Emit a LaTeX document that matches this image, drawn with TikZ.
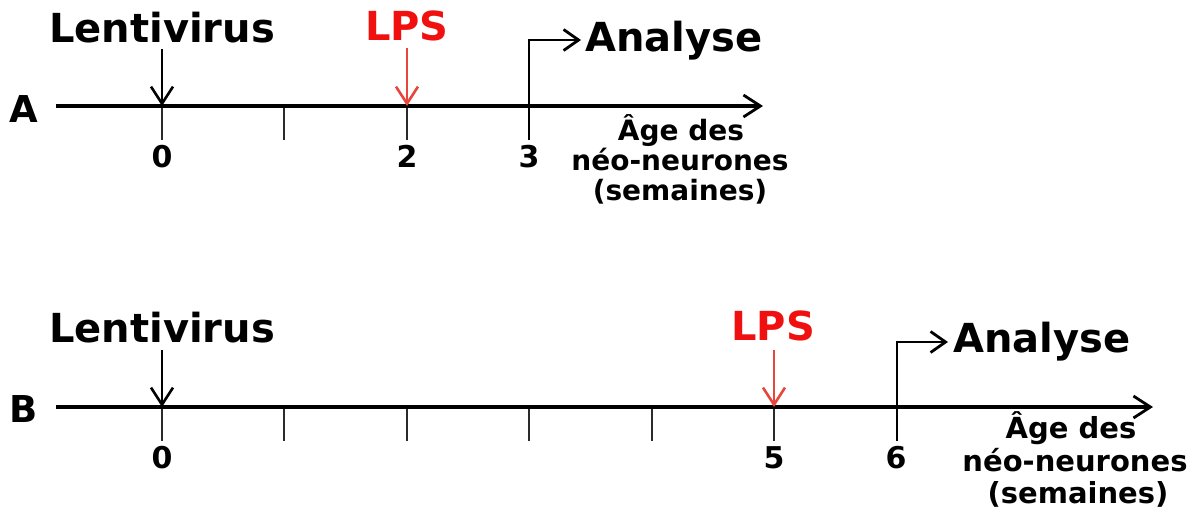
\documentclass[tikz,border=0pt]{standalone}
\usepackage{fontspec}
\setmainfont{DejaVu Sans}
\usetikzlibrary{arrows.meta}
\definecolor{lpsred}{HTML}{F01010}
\definecolor{lpsarrow}{HTML}{E8453C}
\definecolor{tickgray}{HTML}{2A2A2A}
\begin{document}
\begin{tikzpicture}[x=1pt,y=-1pt,
  big/.style={font=\bfseries\fontsize{40}{48}\selectfont,inner sep=0pt,anchor=base},
  panel/.style={font=\bfseries\fontsize{37}{40}\selectfont,inner sep=0pt,anchor=base},
  num/.style={font=\bfseries\fontsize{30}{32}\selectfont,inner sep=0pt,anchor=base},
  agetxt/.style={font=\bfseries\fontsize{28}{30}\selectfont,inner sep=0pt,anchor=base},
  axisline/.style={line width=3.2pt,-{Straight Barb[length=17pt,width=22pt,line width=2.8pt]}},
  tickline/.style={line width=2.5pt,tickgray},
  evarrow/.style={line width=2.6pt,-{Straight Barb[length=17pt,width=22pt,line width=2.6pt]}},
  anarrow/.style={line width=2.8pt,-{Straight Barb[length=15pt,width=21pt,line width=2.8pt]}}]
\useasboundingbox (0,0) rectangle (1189,515);

% ---------------- Panel A ----------------
\node[panel] (labA) at (24,122) {A};
\coordinate (Astart) at (56,106);
\coordinate (Aend) at (763,106);
\foreach \i/\x in {0/162,1/284,2/407,3/529} {
  \coordinate (At\i) at (\x,106);
  \coordinate (Ab\i) at (\x,140);
}
\draw[tickline] (At0) -- (Ab0);
\draw[tickline] (At1) -- (Ab1);
\draw[tickline] (At2) -- (Ab2);
\coordinate (Atop3) at (529,40);
\coordinate (Aan) at (581,40);
\draw[anarrow] (Ab3) -- (Atop3) -- (Aan);
\draw[axisline] (Astart) -- (Aend);

\node[big] (lentA) at (162,42) {Lentivirus};
\node[big,text=lpsred] (lpsA) at (407,40) {LPS};
\node[big,anchor=base west] (anaA) at (585,51) {Analyse};
\coordinate (lentAs) at (162,49);
\coordinate (lpsAs) at (407,48);
\draw[evarrow] (lentAs) -- (At0);
\draw[evarrow,lpsarrow] (lpsAs) -- (At2);

\node[num] (nA0) at (162,167) {0};
\node[num] (nA2) at (407,167) {2};
\node[num] (nA3) at (529,167) {3};
\node[agetxt] (ageA1) at (681,140) {Âge des};
\node[agetxt] (ageA2) at (680,170) {néo-neurones};
\node[agetxt] (ageA3) at (680,200) {(semaines)};

% ---------------- Panel B ----------------
\node[panel] (labB) at (24,422) {B};
\coordinate (Bstart) at (56,407);
\coordinate (Bend) at (1153,407);
\foreach \i/\x in {0/162,1/284,2/407,3/529,4/652,5/774,6/897} {
  \coordinate (Bt\i) at (\x,407);
  \coordinate (Bb\i) at (\x,441);
}
\foreach \i in {0,...,5} { \draw[tickline] (Bt\i) -- (Bb\i); }
\coordinate (Btop6) at (897,342);
\coordinate (Ban) at (948,342);
\draw[anarrow] (Bb6) -- (Btop6) -- (Ban);
\draw[axisline] (Bstart) -- (Bend);

\node[big] (lentB) at (162,342) {Lentivirus};
\node[big,text=lpsred] (lpsB) at (773,340) {LPS};
\node[big,anchor=base west] (anaB) at (953,352) {Analyse};
\coordinate (lentBs) at (162,350);
\coordinate (lpsBs) at (774,350);
\draw[evarrow] (lentBs) -- (Bt0);
\draw[evarrow,lpsarrow] (lpsBs) -- (Bt5);

\node[num] (nB0) at (162,468) {0};
\node[num] (nB5) at (774,468) {5};
\node[num] (nB6) at (896,468) {6};
\node[agetxt,font=\bfseries\fontsize{29}{31}\selectfont] (ageB1) at (1071,438) {Âge des};
\node[agetxt,font=\bfseries\fontsize{29}{31}\selectfont] (ageB2) at (1075,471) {néo-neurones};
\node[agetxt,font=\bfseries\fontsize{29}{31}\selectfont] (ageB3) at (1078,503) {(semaines)};
\end{tikzpicture}
\end{document}
